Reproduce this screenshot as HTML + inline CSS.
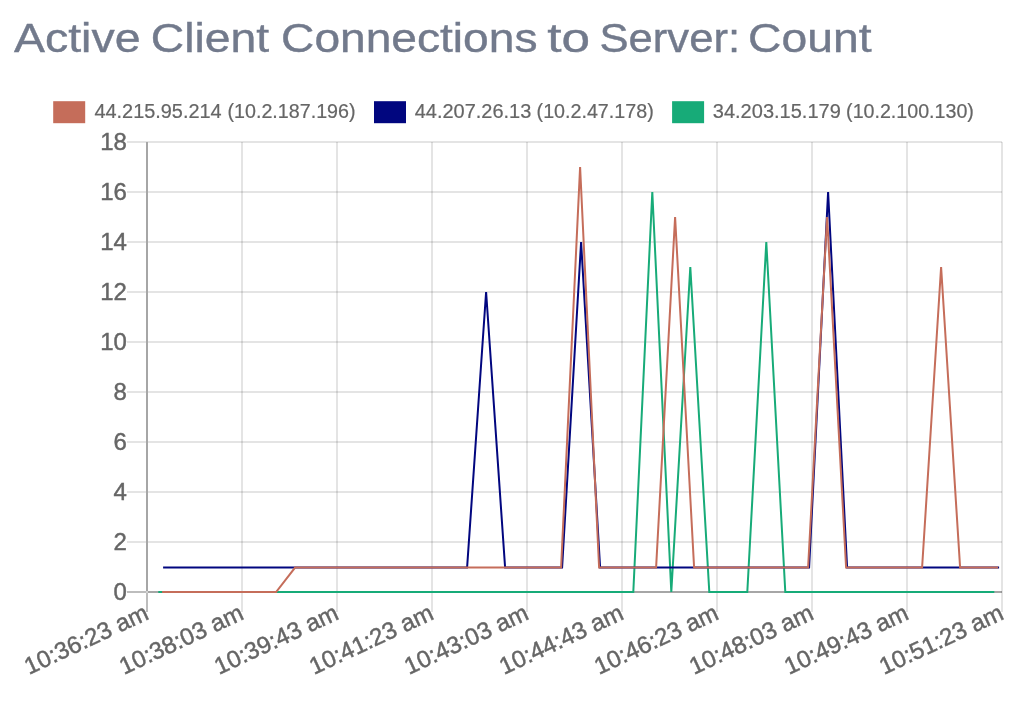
<!DOCTYPE html>
<html lang="en"><head><meta charset="utf-8"><title>Active Client Connections to Server: Count</title>
<style>
html,body{margin:0;padding:0;background:#fff;}
body{width:1030px;height:710px;overflow:hidden;position:relative;font-family:"Liberation Sans",sans-serif;}
svg{position:absolute;left:0;top:0;display:block;will-change:transform;}
text{font-family:"Liberation Sans",sans-serif;}
.t{fill:#666666;stroke:#666666;stroke-width:0.45px;}
.title text{fill:#727a8c;stroke:#727a8c;stroke-width:0.4px;font-size:40px;}
</style></head><body>
<svg width="1030" height="710" viewBox="0 0 1030 710">
<rect width="1030" height="710" fill="#ffffff"/>

<g class="title"><text y="52"><tspan x="13.98" textLength="126.52" lengthAdjust="spacingAndGlyphs">Active</tspan> <tspan x="150.77" textLength="118.33" lengthAdjust="spacingAndGlyphs">Client</tspan> <tspan x="281.08" textLength="256.40" lengthAdjust="spacingAndGlyphs">Connections</tspan> <tspan x="547.26" textLength="42.74" lengthAdjust="spacingAndGlyphs">to</tspan> <tspan x="599.54" textLength="140.52" lengthAdjust="spacingAndGlyphs">Server:</tspan> <tspan x="748.08" textLength="123.44" lengthAdjust="spacingAndGlyphs">Count</tspan></text></g>
<rect x="54.2" y="102.2" width="30" height="20" fill="#c56d5a" stroke="#c56d5a" stroke-width="2"/>
<text class="t" y="118" font-size="20" style="stroke-width:0.2px"><tspan x="94.42" textLength="127.24" lengthAdjust="spacingAndGlyphs">44.215.95.214</tspan> <tspan x="227.51" textLength="128.05" lengthAdjust="spacingAndGlyphs">(10.2.187.196)</tspan></text>
<rect x="375.0" y="102.2" width="30" height="20" fill="#01067f" stroke="#01067f" stroke-width="2"/>
<text class="t" y="118" font-size="20" style="stroke-width:0.2px"><tspan x="414.72" textLength="116.51" lengthAdjust="spacingAndGlyphs">44.207.26.13</tspan> <tspan x="536.58" textLength="117.12" lengthAdjust="spacingAndGlyphs">(10.2.47.178)</tspan></text>
<rect x="673.1" y="102.2" width="30" height="20" fill="#17ab78" stroke="#17ab78" stroke-width="2"/>
<text class="t" y="118" font-size="20" style="stroke-width:0.2px"><tspan x="712.82" textLength="127.95" lengthAdjust="spacingAndGlyphs">34.203.15.179</tspan> <tspan x="846.12" textLength="127.76" lengthAdjust="spacingAndGlyphs">(10.2.100.130)</tspan></text>
<line x1="127" x2="1002.0" y1="142.0" y2="142.0" stroke="#000000" stroke-opacity="0.105" stroke-width="2"/>
<text class="t" x="126.9" y="150.2" font-size="24" text-anchor="end">18</text>
<line x1="127" x2="1002.0" y1="192.0" y2="192.0" stroke="#000000" stroke-opacity="0.105" stroke-width="2"/>
<text class="t" x="126.9" y="200.2" font-size="24" text-anchor="end">16</text>
<line x1="127" x2="1002.0" y1="242.0" y2="242.0" stroke="#000000" stroke-opacity="0.105" stroke-width="2"/>
<text class="t" x="126.9" y="250.2" font-size="24" text-anchor="end">14</text>
<line x1="127" x2="1002.0" y1="292.0" y2="292.0" stroke="#000000" stroke-opacity="0.105" stroke-width="2"/>
<text class="t" x="126.9" y="300.2" font-size="24" text-anchor="end">12</text>
<line x1="127" x2="1002.0" y1="342.0" y2="342.0" stroke="#000000" stroke-opacity="0.105" stroke-width="2"/>
<text class="t" x="126.9" y="350.2" font-size="24" text-anchor="end">10</text>
<line x1="127" x2="1002.0" y1="392.0" y2="392.0" stroke="#000000" stroke-opacity="0.105" stroke-width="2"/>
<text class="t" x="126.9" y="400.2" font-size="24" text-anchor="end">8</text>
<line x1="127" x2="1002.0" y1="442.0" y2="442.0" stroke="#000000" stroke-opacity="0.105" stroke-width="2"/>
<text class="t" x="126.9" y="450.2" font-size="24" text-anchor="end">6</text>
<line x1="127" x2="1002.0" y1="492.0" y2="492.0" stroke="#000000" stroke-opacity="0.105" stroke-width="2"/>
<text class="t" x="126.9" y="500.2" font-size="24" text-anchor="end">4</text>
<line x1="127" x2="1002.0" y1="542.0" y2="542.0" stroke="#000000" stroke-opacity="0.105" stroke-width="2"/>
<text class="t" x="126.9" y="550.2" font-size="24" text-anchor="end">2</text>
<line x1="127" x2="147.0" y1="592.0" y2="592.0" stroke="#bdbdbd" stroke-width="2"/>
<line x1="147.0" x2="1002.0" y1="592.0" y2="592.0" stroke="#a6a6a6" stroke-width="2"/>
<text class="t" x="126.9" y="600.2" font-size="24" text-anchor="end">0</text>
<line x1="147.0" x2="147.0" y1="142.0" y2="592.0" stroke="#a6a6a6" stroke-width="2"/>
<line x1="147.0" x2="147.0" y1="592.0" y2="612" stroke="#bdbdbd" stroke-width="2"/>
<text class="t" font-size="24" text-anchor="end" transform="translate(147.3,612.6) rotate(-25)" y="6.5">10:36:23 am</text>
<line x1="242.0" x2="242.0" y1="142.0" y2="612" stroke="#000000" stroke-opacity="0.105" stroke-width="2"/>
<text class="t" font-size="24" text-anchor="end" transform="translate(242.3,612.6) rotate(-25)" y="6.5">10:38:03 am</text>
<line x1="337.0" x2="337.0" y1="142.0" y2="612" stroke="#000000" stroke-opacity="0.105" stroke-width="2"/>
<text class="t" font-size="24" text-anchor="end" transform="translate(337.3,612.6) rotate(-25)" y="6.5">10:39:43 am</text>
<line x1="432.0" x2="432.0" y1="142.0" y2="612" stroke="#000000" stroke-opacity="0.105" stroke-width="2"/>
<text class="t" font-size="24" text-anchor="end" transform="translate(432.3,612.6) rotate(-25)" y="6.5">10:41:23 am</text>
<line x1="527.0" x2="527.0" y1="142.0" y2="612" stroke="#000000" stroke-opacity="0.105" stroke-width="2"/>
<text class="t" font-size="24" text-anchor="end" transform="translate(527.3,612.6) rotate(-25)" y="6.5">10:43:03 am</text>
<line x1="622.0" x2="622.0" y1="142.0" y2="612" stroke="#000000" stroke-opacity="0.105" stroke-width="2"/>
<text class="t" font-size="24" text-anchor="end" transform="translate(622.3,612.6) rotate(-25)" y="6.5">10:44:43 am</text>
<line x1="717.0" x2="717.0" y1="142.0" y2="612" stroke="#000000" stroke-opacity="0.105" stroke-width="2"/>
<text class="t" font-size="24" text-anchor="end" transform="translate(717.3,612.6) rotate(-25)" y="6.5">10:46:23 am</text>
<line x1="812.0" x2="812.0" y1="142.0" y2="612" stroke="#000000" stroke-opacity="0.105" stroke-width="2"/>
<text class="t" font-size="24" text-anchor="end" transform="translate(812.3,612.6) rotate(-25)" y="6.5">10:48:03 am</text>
<line x1="907.0" x2="907.0" y1="142.0" y2="612" stroke="#000000" stroke-opacity="0.105" stroke-width="2"/>
<text class="t" font-size="24" text-anchor="end" transform="translate(907.3,612.6) rotate(-25)" y="6.5">10:49:43 am</text>
<line x1="1002.0" x2="1002.0" y1="142.0" y2="612" stroke="#000000" stroke-opacity="0.105" stroke-width="2"/>
<text class="t" font-size="24" text-anchor="end" transform="translate(1002.3,612.6) rotate(-25)" y="6.5">10:51:23 am</text>
<rect x="146" y="591" width="2" height="2" fill="#d2d2d2"/>
<polyline fill="none" stroke="#17ab78" stroke-width="2" stroke-linejoin="miter" points="158.3,592.0 177.3,592.0 196.3,592.0 215.3,592.0 234.3,592.0 253.3,592.0 272.3,592.0 291.3,592.0 310.3,592.0 329.3,592.0 348.3,592.0 367.3,592.0 386.3,592.0 405.3,592.0 424.3,592.0 443.3,592.0 462.3,592.0 481.3,592.0 500.3,592.0 519.3,592.0 538.3,592.0 557.3,592.0 576.3,592.0 595.3,592.0 614.3,592.0 633.3,592.0 652.3,192.0 671.3,592.0 690.3,267.0 709.3,592.0 728.3,592.0 747.3,592.0 766.3,242.0 785.3,592.0 804.3,592.0 823.3,592.0 842.3,592.0 861.3,592.0 880.3,592.0 899.3,592.0 918.3,592.0 937.3,592.0 956.3,592.0 975.3,592.0 994.3,592.0"/>
<polyline fill="none" stroke="#01067f" stroke-width="2" stroke-linejoin="miter" points="163.1,567.6 182.1,567.6 201.1,567.6 220.1,567.6 239.1,567.6 258.1,567.6 277.1,567.6 296.1,567.6 315.1,567.6 334.1,567.6 353.1,567.6 372.1,567.6 391.1,567.6 410.1,567.6 429.1,567.6 448.1,567.6 467.1,567.6 486.1,292.0 505.1,567.6 524.1,567.6 543.1,567.6 562.1,567.6 581.1,242.0 600.1,567.6 619.1,567.6 638.1,567.6 657.1,567.6 676.1,567.6 695.1,567.6 714.1,567.6 733.1,567.6 752.1,567.6 771.1,567.6 790.1,567.6 809.1,567.6 828.1,192.0 847.1,567.6 866.1,567.6 885.1,567.6 904.1,567.6 923.1,567.6 942.1,567.6 961.1,567.6 980.1,567.6 999.1,567.6"/>
<polyline fill="none" stroke="#c56d5a" stroke-width="2" stroke-linejoin="miter" points="162.1,592.0 181.1,592.0 200.1,592.0 219.1,592.0 238.1,592.0 257.1,592.0 276.1,592.0 295.1,567.6 314.1,567.6 333.1,567.6 352.1,567.6 371.1,567.6 390.1,567.6 409.1,567.6 428.1,567.6 447.1,567.6 466.1,567.6 485.1,567.6 504.1,567.6 523.1,567.6 542.1,567.6 561.1,567.6 580.1,167.0 599.1,567.6 618.1,567.6 637.1,567.6 656.1,567.6 675.1,217.0 694.1,567.6 713.1,567.6 732.1,567.6 751.1,567.6 770.1,567.6 789.1,567.6 808.1,567.6 827.1,217.0 846.1,567.6 865.1,567.6 884.1,567.6 903.1,567.6 922.1,567.6 941.1,267.0 960.1,567.6 979.1,567.6 998.1,567.6"/>
</svg></body></html>
